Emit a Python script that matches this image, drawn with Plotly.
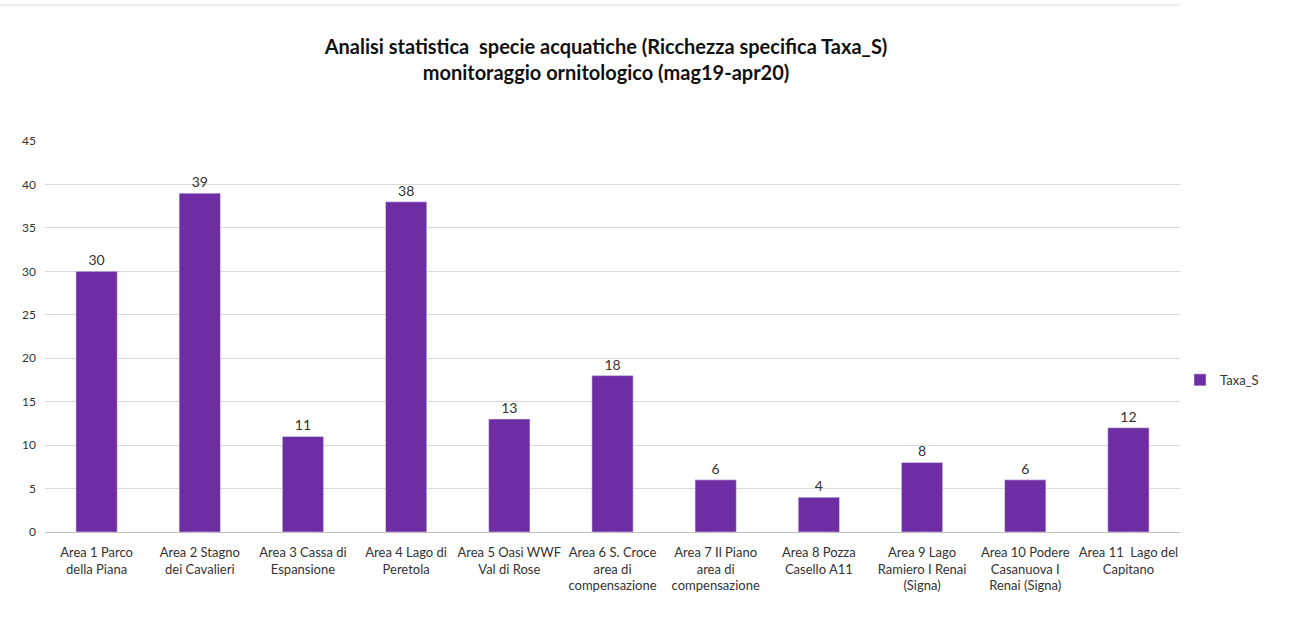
import plotly.graph_objects as go

categories = [
    "Area 1 Parco<br>della Piana",
    "Area 2 Stagno<br>dei Cavalieri",
    "Area 3 Cassa di<br>Espansione",
    "Area 4 Lago di<br>Peretola",
    "Area 5 Oasi WWF<br>Val di Rose",
    "Area 6 S. Croce<br>area di<br>compensazione",
    "Area 7 Il Piano<br>area di<br>compensazione",
    "Area 8 Pozza<br>Casello A11",
    "Area 9 Lago<br>Ramiero I Renai<br>(Signa)",
    "Area 10 Podere<br>Casanuova I<br>Renai (Signa)",
    "Area 11  Lago del<br>Capitano",
]
taxa_s = [30, 39, 11, 38, 13, 18, 6, 4, 8, 6, 12]
y_ticks = [0, 5, 10, 15, 20, 25, 30, 35, 40, 45]

FONT = "Lato, 'Open Sans', sans-serif"
BAR = "#6E2DA3"

fig = go.Figure()
fig.add_trace(go.Bar(
    x=categories, y=taxa_s, name="Taxa_S",
    marker=dict(color=BAR),
    text=[str(v) for v in taxa_s], textposition="outside",
    textfont=dict(size=14, color="#333333", family=FONT),
    cliponaxis=False,
))

fig.update_layout(
    width=1293, height=620,
    paper_bgcolor="white", plot_bgcolor="white",
    margin=dict(l=45, r=113, t=141, b=88, autoexpand=False),
    bargap=0.6,
    showlegend=True,
    legend=dict(x=1.0, y=0.389, xanchor="left", yanchor="middle",
                font=dict(size=13, color="#333333", family=FONT),
                itemwidth=30),
    title=dict(
        text="<b>Analisi statistica  specie acquatiche (Ricchezza specifica Taxa_S)<br>monitoraggio ornitologico (mag19-apr20)</b>",
        x=606 / 1293, xanchor="center", y=0.913, yanchor="top",
        font=dict(size=20, color="#111111", family=FONT),
    ),
    xaxis=dict(
        tickfont=dict(size=13, color="#333333", family=FONT),
        showline=True, linecolor="#bfbfbf", tickangle=0,
        showgrid=False, ticks="", ticklabelstandoff=8,
    ),
    yaxis=dict(
        range=[0, 45], tickvals=y_ticks,
        tickfont=dict(size=12, color="#333333", family=FONT),
        showgrid=True, gridcolor="#d9d9d9", zeroline=False,
        ticks="", ticklabelstandoff=8,
    ),
    shapes=[dict(type="line", xref="paper", yref="paper",
                 x0=-45 / 1135, x1=1.0, y0=1 + 136 / 391, y1=1 + 136 / 391,
                 line=dict(color="#dddddd", width=1))],
)

fig.write_html("out.html", config={"displayModeBar": False},
               post_script="document.body.style.margin='0';")
